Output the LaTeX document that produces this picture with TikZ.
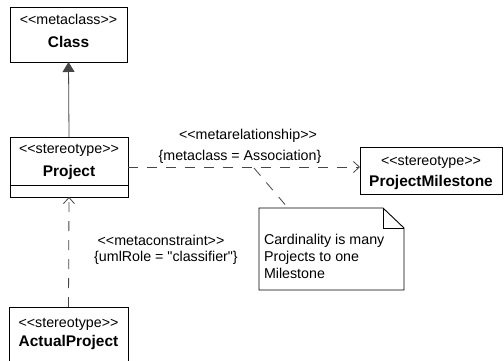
\documentclass[tikz,border=0pt]{standalone}
\usepackage{fontspec}
\setmainfont{Liberation Sans}[Ligatures=TeXOff]
\usetikzlibrary{arrows.meta,calc}
\definecolor{linec}{RGB}{70,70,70}
\begin{document}
\begin{tikzpicture}[x=1bp,y=-1bp,
  every node/.style={inner sep=0pt, outer sep=0pt},
  box/.style={draw=black, line width=0.9bp, anchor=north west},
  st/.style={anchor=base, font=\fontsize{14.3}{17}\selectfont},
  nm/.style={anchor=base, font=\fontsize{15.5}{18}\selectfont\bfseries},
  lbl/.style={anchor=base, font=\fontsize{14.3}{17}\selectfont},
  conn/.style={draw=linec, line width=0.8bp},
  dconn/.style={conn, dash pattern=on 10bp off 9bp},
  openhead/.style={-{Straight Barb[length=6bp,width=11bp,line width=0.8bp]}}
]
\clip (0,0) rectangle (504,360);
\fill[white] (0,0) rectangle (504,360);

% Class
\node[box, minimum width=117bp, minimum height=55bp] (class) at (10,7) {};
\node[st] (classst) at (68.5,24) {<<metaclass>>};
\node[nm] (classnm) at (68.5,47) {Class};

% Project
\node[box, minimum width=118bp, minimum height=60bp] (project) at (10,137) {};
\draw[line width=0.9bp] (10,185) -- (128,185);
\node[st] (projst) at (69,153) {<<stereotype>>};
\node[nm] (projnm) at (69,176) {Project};

% ProjectMilestone
\node[box, minimum width=142bp, minimum height=47bp] (pm) at (360,147) {};
\node[st] (pmst) at (431,165) {<<stereotype>>};
\node[nm] (pmnm) at (431,186) {ProjectMilestone};

% ActualProject
\node[box, minimum width=119bp, minimum height=60bp] (ap) at (9,307) {};
\node[st] (apst) at (68.5,327) {<<stereotype>>};
\node[nm] (apnm) at (68.5,346) {ActualProject};

% Generalization
\draw[conn, -{Triangle[length=10bp,width=12bp]}] (project.north) -- (class.south);

% Association (metarelationship)
\draw[dconn, openhead] (project.east |- 0,167) coordinate (assocstart) -- (pm.west |- 0,167) coordinate (assocend);
\node[lbl] (mrel) at (248,139) {<<metarelationship>>};
\node[lbl] (mcls) at (240,160) {\{metaclass = Association\}};

% Realization (metaconstraint)
\draw[dconn, openhead] (ap.north) -- (project.south);
\node[lbl] (mcon) at (161,245) {<<metaconstraint>>};
\node[lbl] (mrole) at (166,261) {\{umlRole = "classifier"\}};

% Note
\node[anchor=north west, minimum width=145bp, minimum height=82bp] (note) at (259,208) {};
\draw[black, line width=0.9bp, fill=white]
  (note.north west) -- ($(note.north east)+(-21,0)$) -- ($(note.north east)+(0,20)$)
  -- (note.south east) -- (note.south west) -- cycle;
\draw[black, line width=0.9bp]
  ($(note.north east)+(-21,0)$) -- ($(note.north east)+(-21,20)$) -- ($(note.north east)+(0,20)$);
\node[anchor=north west, align=left, font=\fontsize{14.3}{17}\selectfont] (notetext) at (264,234)
  {Cardinality is many\\Projects to one\\Milestone};

\coordinate (notepoint) at (254,168);
\draw[dconn] (notepoint) -- ($(note.north west)+(29,0)$);
\end{tikzpicture}
\end{document}
